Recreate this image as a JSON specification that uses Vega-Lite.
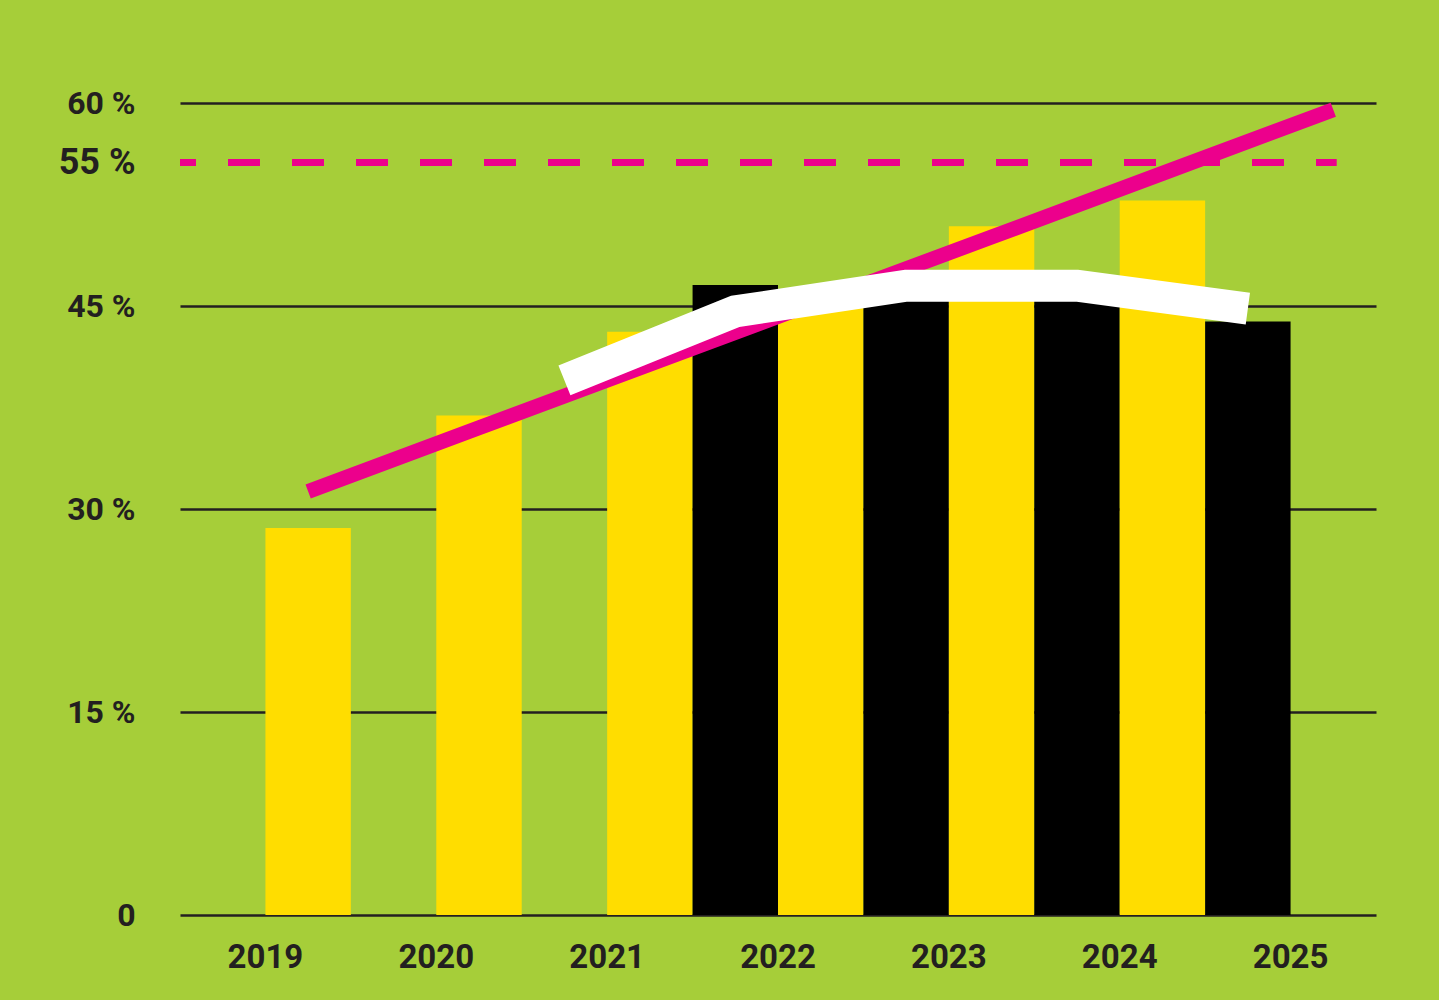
{
  "$schema": "https://vega.github.io/schema/vega-lite/v6.json",
  "autosize": {"type": "none"},
  "width": 1196,
  "height": 812,
  "padding": {"left": 180, "top": 103, "right": 63, "bottom": 85},
  "background": "#A6CE39",
  "config": {
    "view": {"stroke": null},
    "axis": {
      "domain": false,
      "ticks": false,
      "title": null,
      "labelFont": "Roboto",
      "labelFontWeight": "bold",
      "labelColor": "#231F20"
    }
  },
  "datasets": {
    "bars": [
      {"year": "2019", "series": "B", "value": 28.6},
      {"year": "2020", "series": "B", "value": 36.9},
      {"year": "2021", "series": "B", "value": 43.1},
      {"year": "2022", "series": "A", "value": 46.55},
      {"year": "2022", "series": "B", "value": 45.4},
      {"year": "2023", "series": "A", "value": 46.8},
      {"year": "2023", "series": "B", "value": 50.9},
      {"year": "2024", "series": "A", "value": 46.8},
      {"year": "2024", "series": "B", "value": 52.8},
      {"year": "2025", "series": "A", "value": 43.85}
    ],
    "pink": [
      {"year": "2019", "value": 31.3},
      {"year": "2020", "value": 36.0},
      {"year": "2021", "value": 40.7},
      {"year": "2022", "value": 45.4},
      {"year": "2023", "value": 50.1},
      {"year": "2024", "value": 54.8},
      {"year": "2025", "value": 59.5}
    ],
    "white": [
      {"year": "2021", "value": 39.5},
      {"year": "2022", "value": 44.6},
      {"year": "2023", "value": 46.5},
      {"year": "2024", "value": 46.5},
      {"year": "2025", "value": 44.8}
    ]
  },
  "encoding": {
    "x": {
      "field": "year",
      "type": "nominal",
      "scale": {"domain": ["2019", "2020", "2021", "2022", "2023", "2024", "2025"], "paddingInner": 0, "paddingOuter": 0},
      "axis": {"orient": "bottom", "labelAngle": 0, "labelFontSize": 33, "labelPadding": 26, "grid": false}
    }
  },
  "layer": [
    {
      "data": {"values": [{}]},
      "mark": {"type": "rule", "color": "#EC008C", "strokeWidth": 7, "strokeDash": [32, 32], "strokeDashOffset": 16, "strokeCap": "butt"},
      "encoding": {
        "x": {"datum": "2019", "bandPosition": 0},
        "x2": {"datum": "2025", "bandPosition": 0.77},
        "y": {"datum": 55.6, "type": "quantitative"}
      }
    },
    {
      "data": {"name": "bars"},
      "mark": {"type": "bar", "strokeWidth": 0},
      "encoding": {
        "xOffset": {"field": "series", "type": "nominal", "scale": {"domain": ["A", "B"], "paddingInner": 0, "paddingOuter": 0}},
        "y": {
          "field": "value",
          "type": "quantitative",
          "scale": {"domain": [0, 60], "nice": false, "zero": true},
          "axis": {
            "orient": "left",
            "values": [0, 15, 30, 45, 55.6, 60],
            "labelExpr": "datum.value == 0 ? '0' : (datum.value > 55 && datum.value < 56 ? '55 %' : datum.value + ' %')",
            "grid": true,
            "gridColor": "#231F20",
            "gridWidth": 2.5,
            "gridOpacity": {"condition": {"test": "datum.value > 55 && datum.value < 56", "value": 0}, "value": 1},
            "labelFontSize": {"condition": {"test": "datum.value > 55 && datum.value < 56", "value": 36}, "value": 32},
            "labelPadding": 45,
            "labelOverlap": false,
            "labelBound": false
          }
        },
        "color": {"field": "series", "type": "nominal", "scale": {"domain": ["A", "B"], "range": ["#000000", "#FFDD00"]}, "legend": null}
      }
    },
    {
      "data": {"name": "pink"},
      "mark": {"type": "line", "color": "#EC008C", "strokeWidth": 15, "strokeCap": "butt", "strokeJoin": "miter"},
      "encoding": {
        "x": {"field": "year", "type": "nominal", "bandPosition": 0.75},
        "y": {"field": "value", "type": "quantitative"}
      }
    },
    {
      "data": {"name": "white"},
      "mark": {"type": "line", "color": "#FFFFFF", "strokeWidth": 32, "strokeCap": "butt", "strokeJoin": "miter"},
      "encoding": {
        "x": {"field": "year", "type": "nominal", "bandPosition": 0.25},
        "y": {"field": "value", "type": "quantitative"}
      }
    }
  ]
}
